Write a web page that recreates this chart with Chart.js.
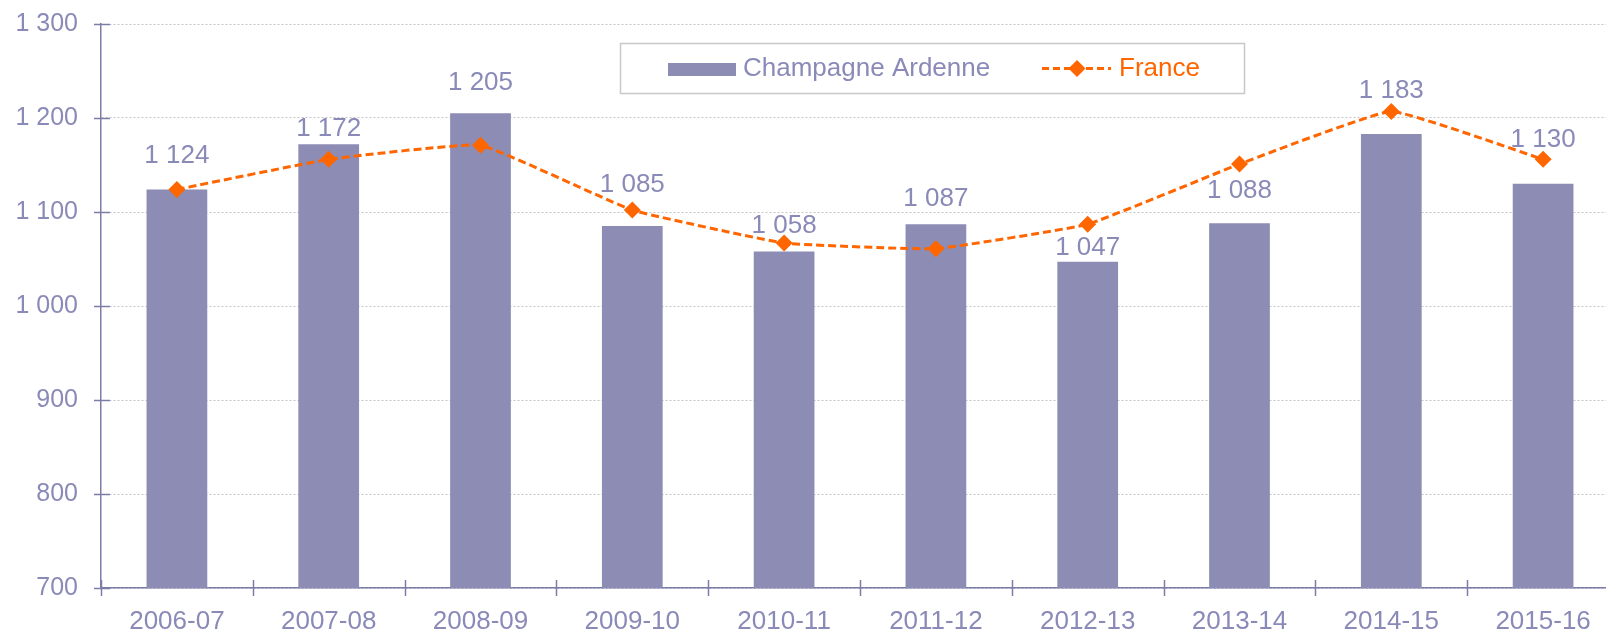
<!DOCTYPE html>
<html><head><meta charset="utf-8">
<script src="https://cdn.jsdelivr.net/npm/chart.js@4/dist/chart.umd.min.js"></script>
<style>html,body{margin:0;padding:0;overflow:hidden;background:#fff;width:1606px;height:630px}canvas{display:block}</style>
</head><body><canvas id="c" width="1640" height="630"></canvas>
<script>
const categories = ['2006-07','2007-08','2008-09','2009-10','2010-11','2011-12','2012-13','2013-14','2014-15','2015-16'];
const champagneArdenne = [1124,1172,1205,1085,1058,1087,1047,1088,1183,1130];
const france = [1124,1156,1171,1102,1067,1061,1087,1151,1207,1156];
const yTicks = [700,800,900,1000,1100,1200,1300];
const seriesNames = ['Champagne Ardenne','France'];

const FONT = '"Liberation Sans", Arial, sans-serif';
const TXT = '#8A8AB8';
const BAR = '#8C8CB4';
const AXIS = '#7C7CAA';
const ORANGE = '#FF6600';
const fmt = v => String(v).replace(/\B(?=(\d{3})+(?!\d))/g, ' ');

const tickPlugin = {
  id: 'crossTicks',
  afterDatasetsDraw(chart) {
    const ctx = chart.ctx, a = chart.chartArea, y = chart.scales.y;
    ctx.save();
    ctx.strokeStyle = AXIS; ctx.lineWidth = 1.5;
    yTicks.forEach(t => {
      const py = Math.round(y.getPixelForValue(t)) + 0.5;
      ctx.beginPath(); ctx.moveTo(a.left - 7, py); ctx.lineTo(a.left + 9, py); ctx.stroke();
    });
    const w = (a.right - a.left) / categories.length;
    for (let i = 0; i <= categories.length; i++) {
      const px = Math.round(a.left + i * w) + 0.5;
      ctx.beginPath(); ctx.moveTo(px, a.bottom - 8); ctx.lineTo(px, a.bottom + 8); ctx.stroke();
    }
    ctx.restore();
  }
};

const labelPlugin = {
  id: 'barLabels',
  afterDraw(chart, args, opts) {
    const ctx = chart.ctx;
    const meta = chart.getDatasetMeta(1);
    ctx.save();
    ctx.font = '26px ' + FONT; ctx.fillStyle = TXT;
    ctx.textAlign = 'center'; ctx.textBaseline = 'alphabetic';
    meta.data.forEach((bar, i) => {
      ctx.fillText(fmt(champagneArdenne[i]), bar.x, bar.y - opts.lift[i] + 9);
    });
    ctx.restore();
  }
};

const legendPlugin = {
  id: 'boxLegend',
  afterDraw(chart) {
    const ctx = chart.ctx;
    ctx.save();
    ctx.fillStyle = '#fff';
    ctx.fillRect(620, 43, 625, 51);
    ctx.strokeStyle = '#C8C8C8'; ctx.lineWidth = 1.5;
    ctx.strokeRect(620.5, 43.5, 624, 50);
    ctx.fillStyle = BAR;
    ctx.fillRect(668, 63, 68, 13);
    ctx.font = '26px ' + FONT; ctx.textBaseline = 'alphabetic'; ctx.textAlign = 'left';
    ctx.fillStyle = TXT; ctx.fillText(seriesNames[0], 743, 76);
    ctx.strokeStyle = ORANGE; ctx.lineWidth = 3; ctx.setLineDash([7, 4]);
    ctx.beginPath(); ctx.moveTo(1042, 68.5); ctx.lineTo(1111, 68.5); ctx.stroke();
    ctx.setLineDash([]);
    ctx.fillStyle = ORANGE;
    const cx = 1077, cy = 68.5, r = 8.5;
    ctx.beginPath(); ctx.moveTo(cx - r, cy); ctx.lineTo(cx, cy - r); ctx.lineTo(cx + r, cy); ctx.lineTo(cx, cy + r); ctx.closePath(); ctx.fill();
    ctx.fillText(seriesNames[1], 1119, 76);
    ctx.restore();
  }
};

new Chart(document.getElementById('c'), {
  data: {
    labels: categories,
    datasets: [
      { type: 'line', label: seriesNames[1], data: france, borderColor: ORANGE, backgroundColor: ORANGE,
        borderWidth: 3, borderDash: [8, 4], tension: 0.1, pointStyle: 'rectRot', pointRadius: 8.5,
        pointBorderWidth: 0, pointBackgroundColor: ORANGE, fill: false, order: 0 },
      { type: 'bar', label: seriesNames[0], data: champagneArdenne, backgroundColor: BAR,
        barPercentage: 0.4, categoryPercentage: 1.0, order: 1 }
    ]
  },
  options: {
    responsive: false, animation: false, devicePixelRatio: 1,
    layout: { padding: { top: 24, right: 21, left: 0, bottom: 0 } },
    plugins: { legend: { display: false }, tooltip: { enabled: false }, barLabels: { lift: [35, 17, 32, 43, 27, 27, 16, 34, 45, 46] } },
    scales: {
      x: {
        offset: true,
        grid: { display: false, drawTicks: false },
        border: { display: true, color: AXIS, width: 1.5 },
        ticks: { color: TXT, font: { size: 26, family: FONT }, padding: 18, maxRotation: 0, autoSkip: false },
        afterFit: s => { s.height = 42; s.paddingLeft = 0; s.paddingRight = 0; }
      },
      y: {
        min: 700, max: 1300,
        afterBuildTicks: s => { s.ticks = yTicks.map(v => ({ value: v })); },
        grid: { color: '#C4C4C4', lineWidth: 1, drawTicks: false },
        border: { display: true, color: AXIS, width: 1.5, dash: [2, 2] },
        ticks: { color: TXT, font: { size: 25, family: FONT }, padding: 23, callback: v => fmt(v) },
        afterFit: s => { s.width = 101; s.paddingTop = 0; s.paddingBottom = 0; }
      }
    }
  },
  plugins: [tickPlugin, labelPlugin, legendPlugin]
});
</script>
</body></html>
